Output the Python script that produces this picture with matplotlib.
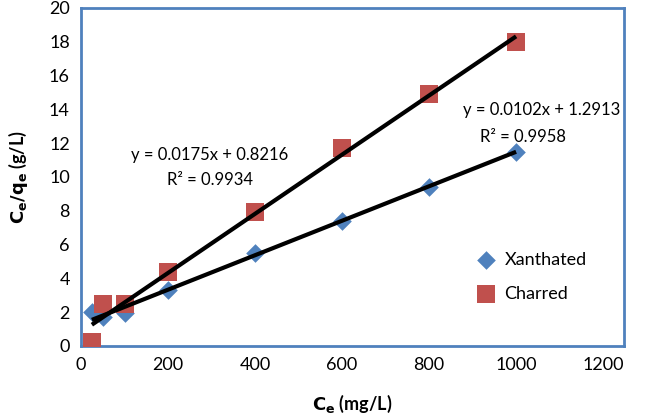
import matplotlib
matplotlib.use("Agg")
import matplotlib.pyplot as plt
import numpy as np

ce = [25, 50, 100, 200, 400, 600, 800, 1000]
xanthated = [2.0, 1.7, 1.95, 3.3, 5.5, 7.4, 9.4, 11.5]
charred = [0.25, 2.5, 2.5, 4.4, 7.9, 11.7, 14.9, 18.0]
fit_x = (0.0102, 1.2913, 0.9958)
fit_c = (0.0175, 0.8216, 0.9934)

plt.rcParams['font.family'] = ['Lato', 'DejaVu Sans']

fig = plt.figure(figsize=(6.45, 4.17), dpi=100)
ax = fig.add_axes([81/645, 1-346/417, (624-81)/645, (346-8)/417])

ax.scatter(ce, xanthated, marker='D', s=90, color='#4F81BD', label='Xanthated', zorder=3, linewidths=0)
ax.scatter(ce, charred, marker='s', s=150, color='#C0504D', label='Charred', zorder=3, linewidths=0)

xs = np.array([min(ce), max(ce)])
ax.plot(xs, fit_x[0]*xs + fit_x[1], color='black', lw=3, zorder=4, solid_capstyle='butt')
ax.plot(xs, fit_c[0]*xs + fit_c[1], color='black', lw=3, zorder=4, solid_capstyle='butt')

ax.set_xlim(0, 1248)
ax.set_ylim(0, 20)
ax.set_xticks(range(0, 1201, 200))
ax.set_yticks(range(0, 21, 2))
ax.tick_params(length=0, labelsize=13, pad=8)
for s in ax.spines.values():
    s.set_color('#4F81BD')
    s.set_linewidth(2)

fs = 12
fig.text(210/645, 1-155/417, f"y = {fit_c[0]}x + {fit_c[1]}", fontsize=fs, ha='center', va='center')
fig.text(210/645, 1-180/417, f"R² = {fit_c[2]}", fontsize=fs, ha='center', va='center')
fig.text(542/645, 1-110/417, f"y = {fit_x[0]}x + {fit_x[1]}", fontsize=fs, ha='center', va='center')
fig.text(523/645, 1-137/417, f"R² = {fit_x[2]}", fontsize=fs, ha='center', va='center')

ax.set_xlabel(r"$\mathbf{C_e}$ (mg/L)", fontsize=13, fontweight='bold', labelpad=14)
ax.set_ylabel(r"$\mathbf{C_e/q_e}$ (g/L)", fontsize=13, fontweight='bold', labelpad=14)

ax.legend(loc='upper left', bbox_to_anchor=(0.70, 0.30), frameon=False, fontsize=13,
          handletextpad=0.0, labelspacing=1.0, borderaxespad=0)

fig.savefig("out.png", dpi=100)
